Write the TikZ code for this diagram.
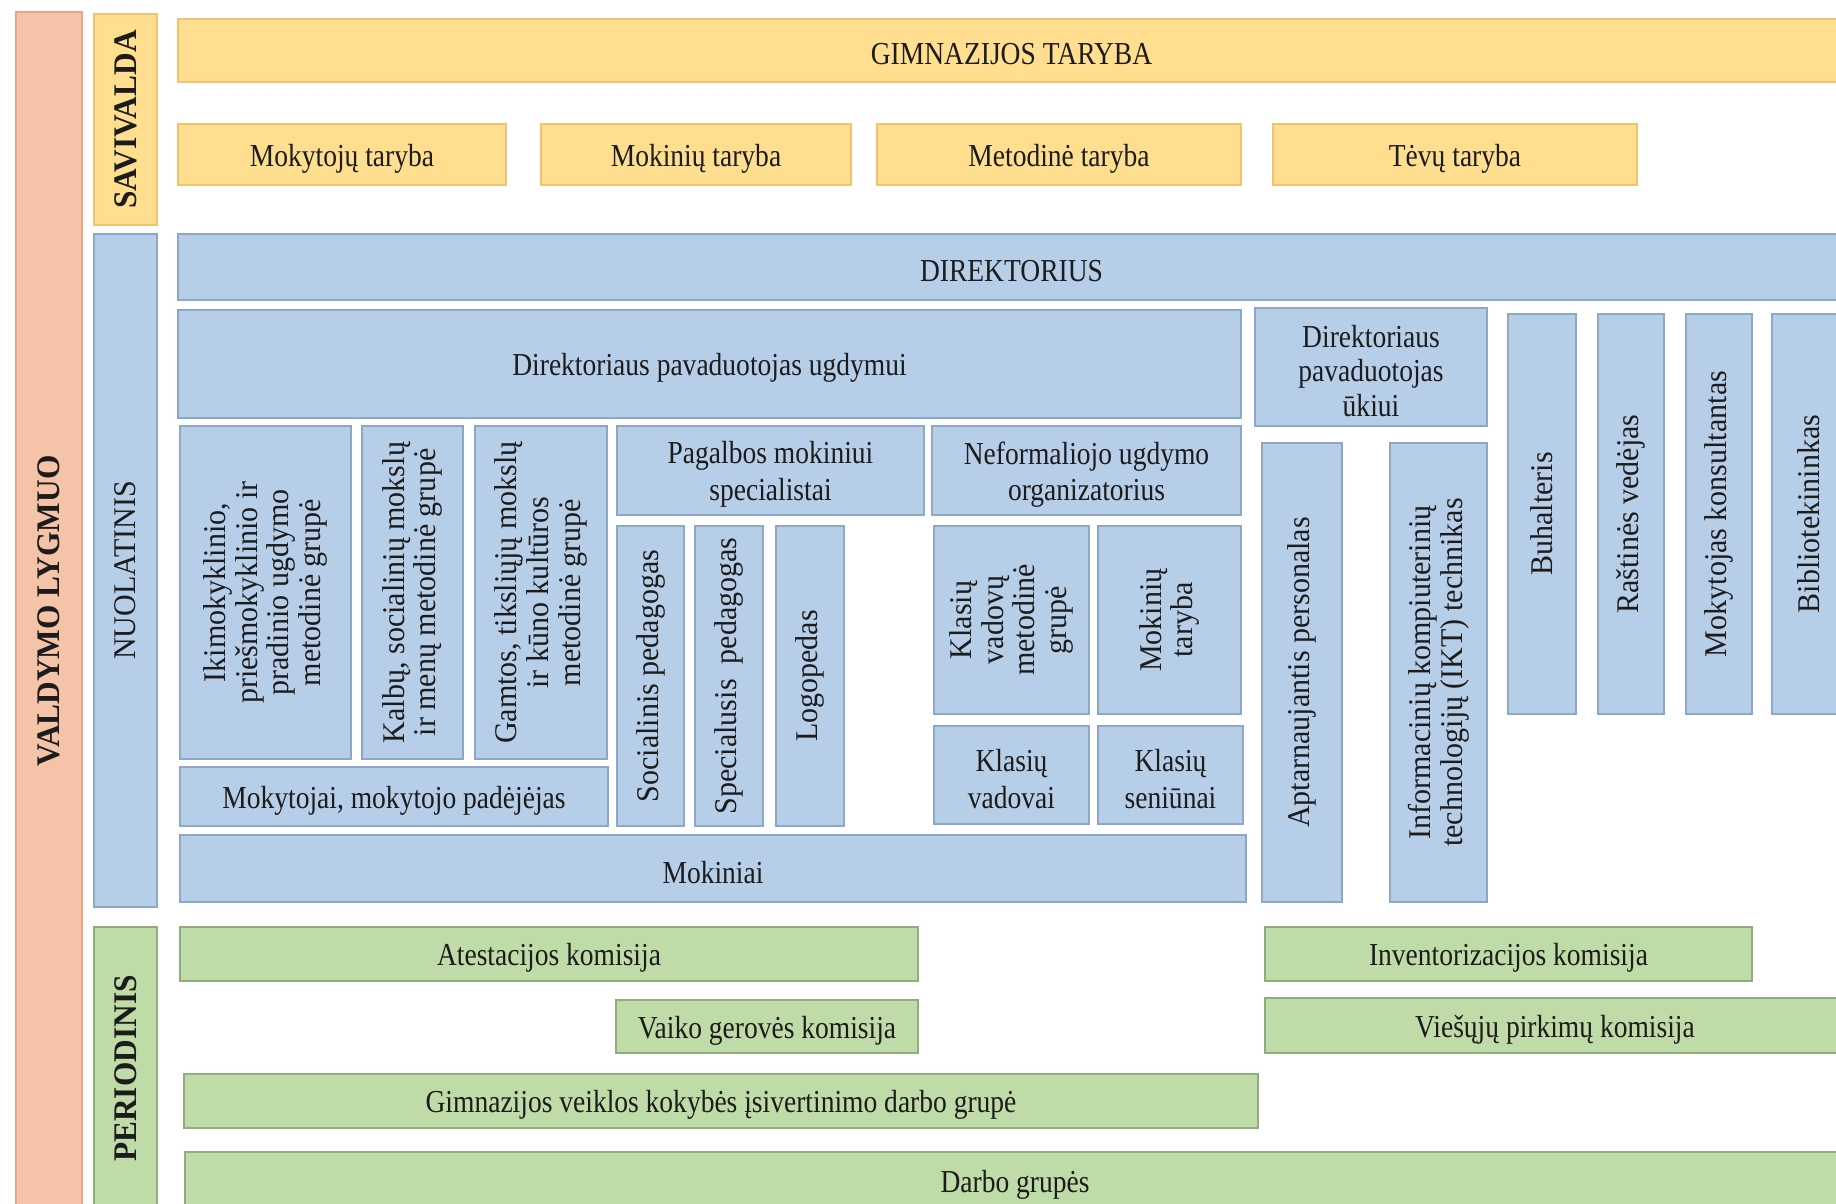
\documentclass[tikz,border=0pt]{standalone}
\usepackage{fontspec}
\setmainfont{Liberation Serif}[FakeStretch=0.86]
\newfontfamily\vfont{Liberation Serif}[FakeStretch=0.95]
\definecolor{ylwF}{HTML}{FFDF8F}
\definecolor{ylwD}{HTML}{F0C46E}
\definecolor{bluF}{HTML}{B7CEE9}
\definecolor{bluD}{HTML}{8DA7C9}
\definecolor{grnF}{HTML}{BFDBA8}
\definecolor{grnD}{HTML}{91AD80}
\definecolor{salF}{HTML}{F5C3A7}
\definecolor{salD}{HTML}{E6A584}
\definecolor{txt}{HTML}{1C1C1C}
\tikzset{
  base/.style={inner sep=0pt, outer sep=0pt, line width=0.7pt, align=center, text=txt,
    font=\fontsize{16}{18.3}\selectfont},
  ybox/.style={base, fill=ylwF, draw=ylwD},
  bbox/.style={base, fill=bluF, draw=bluD},
  gbox/.style={base, fill=grnF, draw=grnD},
  sbox/.style={base, fill=salF, draw=salD},
  vtxt/.style={font=\vfont\fontsize{15.8}{15.8}\selectfont},
  vbold/.style={font=\vfont\bfseries\fontsize{16.5}{16}\selectfont},
}
% horizontal box: name, style, x1, y1, x2, y2, text
\newcommand\hbx[7]{%
  \pgfmathsetmacro\bxw{(#5)-(#3)}%
  \pgfmathsetmacro\bxh{(#6)-(#4)}%
  \node[#2, minimum width={\bxw*0.5pt}, minimum height={\bxh*0.5pt}]
    (#1) at ({((#3)+(#5))/2},{((#4)+(#6))/2}) {};
  \node[base, yshift=-2pt] (#1-t) at (#1.center) {#7};}
% vertical (rotated text) box
\newcommand\vbx[7]{%
  \pgfmathsetmacro\bxw{(#5)-(#3)}%
  \pgfmathsetmacro\bxh{(#6)-(#4)}%
  \node[#2, rotate=90, minimum width={\bxh*0.5pt}, minimum height={\bxw*0.5pt}]
    (#1) at ({((#3)+(#5))/2},{((#4)+(#6))/2}) {#7};}
\begin{document}
\begin{tikzpicture}[x=0.5pt,y=-0.5pt]
\clip (0,0) rectangle (1836,1204);
\fill[white] (0,0) rectangle (1836,1204);
% level columns
\vbx{valdymo}{sbox,vbold}{16}{12}{82}{1210}{VALDYMO LYGMUO}
\vbx{savivalda}{ybox,vbold}{94}{14}{157}{225}{SAVIVALDA}
\vbx{nuolatinis}{bbox,vtxt}{94}{234}{157}{907}{NUOLATINIS}
\vbx{periodinis}{gbox,vbold}{94}{927}{157}{1210}{PERIODINIS}
% savivalda
\hbx{gt}{ybox}{178}{19}{1845}{82}{GIMNAZIJOS TARYBA}
\hbx{mt}{ybox}{178}{124}{506}{185}{Mokytojų taryba}
\hbx{mkt}{ybox}{541}{124}{851}{185}{Mokinių taryba}
\hbx{met}{ybox}{877}{124}{1241}{185}{Metodinė taryba}
\hbx{tev}{ybox}{1273}{124}{1637}{185}{Tėvų taryba}
% nuolatinis
\hbx{dir}{bbox}{178}{234}{1845}{300}{DIREKTORIUS}
\hbx{dpu}{bbox}{178}{310}{1241}{418}{Direktoriaus pavaduotojas ugdymui}
\hbx{dpuk}{bbox}{1255}{308}{1487}{426}{Direktoriaus\\[-1pt]pavaduotojas\\[-1pt]ūkiui}
\vbx{buh}{bbox,vtxt}{1508}{314}{1576}{714}{Buhalteris}
\vbx{ras}{bbox,vtxt}{1598}{314}{1664}{714}{Raštinės vedėjas}
\vbx{mkons}{bbox,vtxt}{1686}{314}{1752}{714}{Mokytojas konsultantas}
\vbx{bib}{bbox,vtxt}{1772}{314}{1845}{714}{Bibliotekininkas}
\vbx{iki}{bbox,vtxt}{180}{426}{351}{759}{Ikimokyklinio,\\priešmokyklinio ir\\pradinio ugdymo\\metodinė grupė}
\vbx{kal}{bbox,vtxt}{362}{426}{463}{759}{Kalbų, socialinių mokslų\\ir menų metodinė grupė}
\vbx{gam}{bbox,vtxt}{475}{426}{607}{759}{Gamtos, tiksliųjų mokslų\\ir kūno kultūros\\metodinė grupė}
\hbx{mok}{bbox}{180}{767}{608}{826}{Mokytojai, mokytojo padėjėjas}
\hbx{pag}{bbox}{617}{426}{924}{515}{Pagalbos mokiniui\\specialistai}
\hbx{nef}{bbox}{932}{426}{1241}{515}{Neformaliojo ugdymo\\organizatorius}
\vbx{soc}{bbox,vtxt}{617}{526}{684}{826}{Socialinis pedagogas}
\vbx{spe}{bbox,vtxt}{695}{526}{763}{826}{Specialusis\ \ pedagogas}
\vbx{log}{bbox,vtxt}{776}{526}{844}{826}{Logopedas}
\vbx{kvm}{bbox,vtxt}{934}{526}{1089}{714}{Klasių\\vadovų\\metodinė\\grupė}
\vbx{mkt2}{bbox,vtxt}{1098}{526}{1241}{714}{Mokinių\\taryba}
\hbx{kv}{bbox}{934}{726}{1089}{824}{Klasių\\vadovai}
\hbx{ks}{bbox}{1098}{726}{1243}{824}{Klasių\\seniūnai}
\hbx{mokiniai}{bbox}{180}{835}{1246}{902}{Mokiniai}
\vbx{apt}{bbox,vtxt}{1262}{443}{1342}{902}{Aptarnaujantis personalas}
\vbx{ikt}{bbox,vtxt}{1390}{443}{1487}{902}{Informacinių kompiuterinių\\technologijų (IKT) technikas}
% periodinis
\hbx{ate}{gbox}{180}{927}{918}{981}{Atestacijos komisija}
\hbx{vai}{gbox}{616}{1000}{918}{1053}{Vaiko gerovės komisija}
\hbx{inv}{gbox}{1265}{927}{1752}{981}{Inventorizacijos komisija}
\hbx{vie}{gbox}{1265}{998}{1845}{1053}{Viešųjų pirkimų komisija}
\hbx{gim}{gbox}{184}{1074}{1258}{1128}{Gimnazijos veiklos kokybės įsivertinimo darbo grupė}
\hbx{dar}{gbox}{185}{1152}{1845}{1210}{Darbo grupės}
\end{tikzpicture}
\end{document}
